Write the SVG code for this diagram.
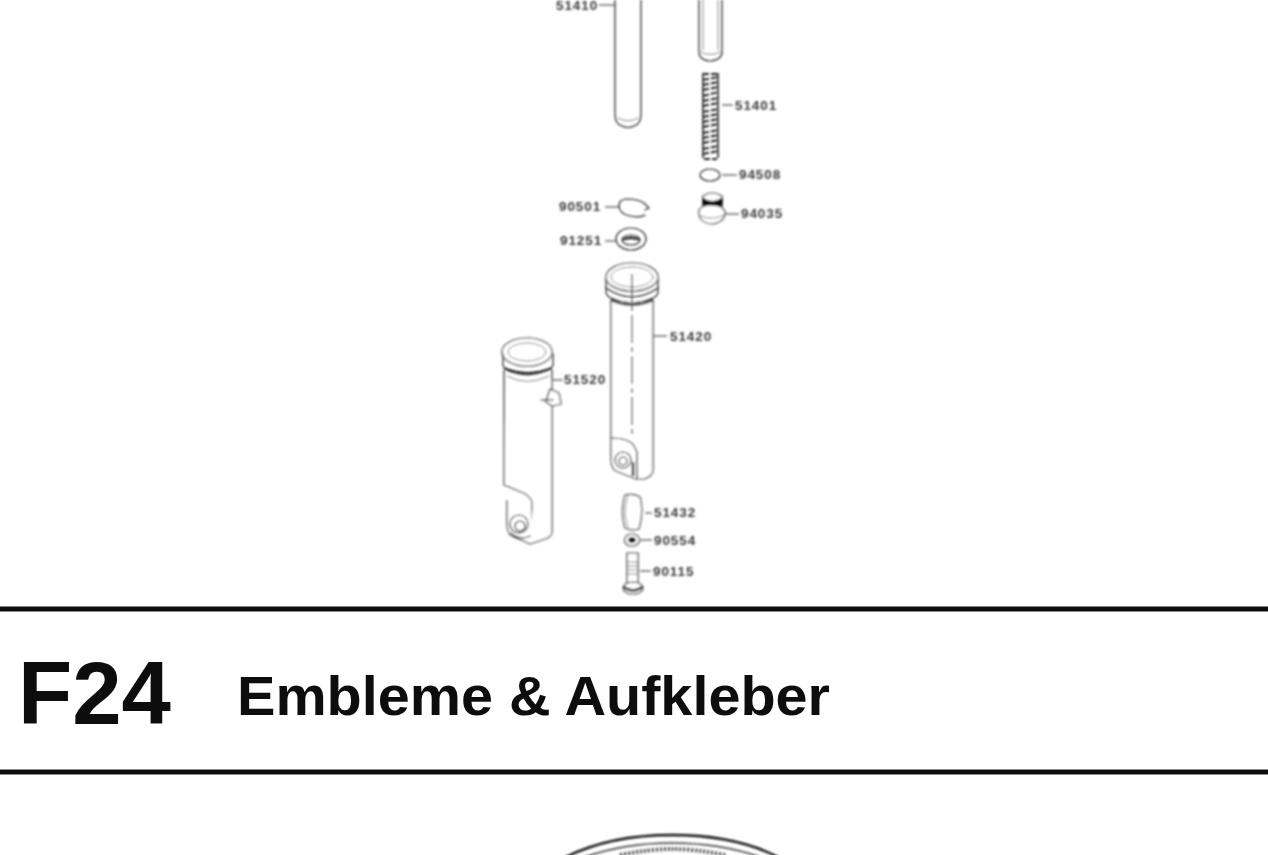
<svg xmlns="http://www.w3.org/2000/svg" width="1268" height="855" viewBox="0 0 1268 855">
<defs>
<filter id="soft" filterUnits="userSpaceOnUse" x="0" y="-10" width="1268" height="616"><feGaussianBlur in="SourceGraphic" stdDeviation="0.85"/></filter>
<filter id="softer" filterUnits="userSpaceOnUse" x="500" y="790" width="340" height="75"><feGaussianBlur in="SourceGraphic" stdDeviation="1"/></filter>
<filter id="title" filterUnits="userSpaceOnUse" x="-10" y="600" width="1288" height="180"><feGaussianBlur in="SourceGraphic" stdDeviation="0.7"/></filter>
</defs>
<style>
.p{fill:none;stroke:#222;stroke-width:1.2;stroke-linecap:round;stroke-linejoin:round}
.w{fill:#fff;stroke:#222;stroke-width:1.2;stroke-linejoin:round}
.t{stroke-width:.9;stroke:#777}
.d{fill:#111;stroke:#111;stroke-width:1}
.lab{font-family:"Liberation Sans",Arial,sans-serif;font-size:13.500px;font-weight:bold;fill:#3a3a3a;letter-spacing:.9px}
.l{fill:none;stroke:#333;stroke-width:1.1}
.head{font-family:"Liberation Sans",Arial,sans-serif;font-weight:bold;fill:#111}
</style>
<rect width="1268" height="855" fill="#fff"/>
<g filter="url(#soft)">
<g id="connectors">
<path class="l" d="M599 5H615M722 105H733M722 175H737M725 214H739M605 207H619M605 241H617M653 336H667M552 380H563M645 513H652M640 540H652M640 571H651"/>
</g>
<g id="n51410">
<path class="p" d="M615 0V114Q615 124 622 126Q628 129 634 126Q641 124 641 114V0"/>
<path class="p t" d="M618 118Q628 124 638 118"/>
<text class="lab" x="556" y="10">51410</text>
</g>
<g id="rod-upper">
<path class="p" d="M699 0V50Q698 60 710 61Q723 60 722 50V0"/>
<path class="p t" d="M703 0V50M718 0V50M700 52Q710 57 721 52"/>
</g>
<g id="n51401">
<path fill="none" stroke="#222" stroke-width="2" stroke-dasharray="6 2" d="M703 74H718M703 80L718 77M703 85L718 82M703 90L718 87M703 96L718 92M703 101L718 98M703 106L718 103M703 112L718 109M703 117L718 114M703 122L718 119M703 127L718 124M703 133L718 130M703 138L718 135M703 143L718 140M703 149L718 146M703 154L718 151M704 159H717"/>
<path fill="none" stroke="#222" stroke-width="1.600" d="M703 73V158M718 73V158"/>
<text class="lab" x="735" y="110">51401</text>
</g>
<g id="n94508">
<ellipse class="p" cx="710" cy="175" rx="10" ry="6"/>
<text class="lab" x="739" y="179">94508</text>
</g>
<g id="n94035">
<path class="w" d="M703 196Q712 190 722 196V208H703Z"/>
<path class="d" d="M703 198Q712 205 722 198V205Q712 209 703 205Z"/>
<path class="w" d="M699 210Q702 205 711 205Q723 205 725 212Q725 222 712 224Q700 223 699 214Z"/>
<path class="p t" d="M701 216Q712 221 724 215"/>
<text class="lab" x="741" y="218">94035</text>
</g>
<g id="n90501">
<path class="p" d="M645 215Q640 218 630 216Q620 214 619 207Q618 200 626 199Q640 199 645 204L649 208L645 210"/>
<text class="lab" x="559" y="211">90501</text>
</g>
<g id="n91251">
<ellipse class="p" cx="631" cy="239" rx="15" ry="11"/>
<ellipse class="p" cx="631" cy="240" rx="9" ry="5"/>
<path class="d" d="M622 240Q631 234 640 240Q631 237 622 240Z"/>
<text class="lab" x="560" y="245">91251</text>
</g>
<g id="n51420">
<path class="w" d="M611 300V457Q611 469 616 471L636 479H644Q653 476 653 470V300"/>
<ellipse class="w" cx="632" cy="277" rx="26" ry="14"/>
<ellipse class="p t" cx="632" cy="277" rx="21" ry="10"/>
<path class="p" d="M606 279V292Q606 300 632 303Q658 300 658 292V279"/>
<path class="p" d="M606 288Q632 306 658 288"/>
<path fill="none" stroke="#222" stroke-width="2.200" d="M611 300Q632 310 653 300"/>
<path class="l t" stroke-dasharray="28 4 5 4" d="M632 274V435"/>
<path class="p" d="M612 438Q626 438 633 444L637 452V478"/>
<circle class="p" cx="623" cy="460" r="8"/>
<circle class="p" cx="623" cy="461" r="4"/>
<path fill="none" stroke="#111" stroke-width="2.500" d="M633 462V476"/>
<text class="lab" x="670" y="341">51420</text>
</g>
<g id="n51520">
<path class="w" d="M504 370V485L518 491Q530 495 532 502V540Q532 543 528 543L510 535Q507 530 507 525V500"/>
<path class="w" d="M552 370V531Q552 537 545 539L530 544L528 543"/>
<ellipse class="w" cx="527" cy="352" rx="25" ry="14"/>
<ellipse class="p t" cx="527" cy="352" rx="19" ry="9"/>
<path class="p" d="M503 354V365Q503 372 527 375Q552 372 553 365V354"/>
<path fill="none" stroke="#222" stroke-width="2.200" d="M504 368Q527 378 552 368"/>
<path class="p t" d="M507 376Q527 387 549 376"/>
<path class="w" d="M550 389L559 393L561 404L552 406L546 402Z"/>
<path class="p" d="M541 400H553"/>
<circle class="p" cx="519" cy="524" r="9"/>
<circle class="p" cx="520" cy="526" r="5"/>
<path class="p" d="M511 533Q520 541 530 536"/>
<text class="lab" x="564" y="384">51520</text>
</g>
<g id="n51432">
<path class="w" d="M625 495Q634 493 640 497Q644 510 639 529Q632 531 625 528Q620 513 625 495Z"/>
<path class="p t" d="M628 496Q622 512 628 527"/>
<text class="lab" x="654" y="517">51432</text>
</g>
<g id="n90554">
<ellipse class="w" cx="632" cy="540" rx="7.500" ry="6"/>
<ellipse class="d" cx="632" cy="540" rx="3.500" ry="2.500"/>
<text class="lab" x="654" y="545">90554</text>
</g>
<g id="n90115">
<path class="w" d="M627 553H638V584H627Z"/>
<path class="p t" d="M627 562H638M627 566H638M627 570H638M627 574H638"/>
<ellipse class="w" cx="633" cy="588" rx="10" ry="6"/>
<path fill="none" stroke="#222" stroke-width="2.500" d="M624 587Q633 594 642 587"/>
<text class="lab" x="653" y="576">90115</text>
</g>
</g>
<g id="header-f24" filter="url(#title)">
<rect x="-10" y="606.500" width="1288" height="5" fill="#111"/>
<rect x="-10" y="769.500" width="1288" height="5" fill="#111"/>
<text class="head" x="18" y="724" font-size="89" textLength="153" lengthAdjust="spacingAndGlyphs">F24</text>
<text class="head" x="237" y="715" font-size="56" textLength="593" lengthAdjust="spacingAndGlyphs">Embleme &amp; Aufkleber</text>
</g>
<g id="emblem" filter="url(#softer)">
<path fill="none" stroke="#111" stroke-width="2.500" d="M566 857Q610 835 672 835Q735 835 778 857"/>
<path fill="none" stroke="#333" stroke-width="1.600" d="M585 857Q625 843 672 843Q720 843 760 857"/>
<path fill="none" stroke="#444" stroke-width="4" stroke-dasharray="2 2" d="M620 855Q650 849 672 849Q695 849 725 855"/>
</g>
</svg>
